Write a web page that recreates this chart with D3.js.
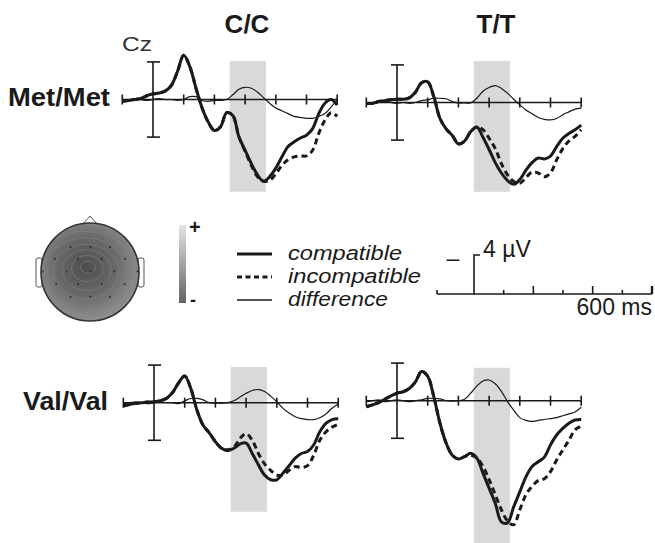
<!DOCTYPE html>
<html lang="en">
  <head>
    <meta charset="UTF-8" />
    <title>ERP at Cz by genotype</title>
    <script src="https://cdn.jsdelivr.net/npm/d3@7"></script>
    <style>
      body {
        margin: 0;
        background: #fff;
        font-family: "Liberation Sans", Arial, sans-serif;
      }
    </style>
  </head>
  <body>
    <div id="chart"></div>
    <script>
      // time grid (ms) shared by every waveform
      const times = [-100, -80, -60, -40, -20, 0, 20, 40, 60, 80, 100, 120, 140, 160, 180, 200, 220, 240,
        260, 280, 300, 320, 340, 360, 380, 400, 420, 440, 460, 480, 500, 520, 540, 560, 580, 600]

      // amplitudes in µV (negative up)
      const metCCcompatible = [0.2, 0.1, 0, -0.1, -0.4, -0.6, -0.7, -0.9, -1.5, -3.0, -4.7, -3.5, -1.2, 0.9, 2.4, 3.3, 2.9, 1.4,
        1.7, 4.0, 5.4, 6.8, 8.0, 8.7, 8.2, 7.3, 6.1, 5.0, 4.5, 4.1, 3.8, 3.1, 1.5, 0.4, 0, 0.6]
      const metCCincompatible = [0.2, 0.1, 0, -0.1, -0.4, -0.6, -0.7, -0.9, -1.5, -3.0, -4.7, -3.5, -1.2, 0.9, 2.4, 3.3, 2.9, 1.4,
        1.7, 4.0, 5.5, 7.0, 8.2, 8.7, 8.6, 7.9, 7.0, 6.4, 6.1, 6.0, 6.0, 5.4, 3.6, 2.2, 1.4, 1.8]
      const metCCdifference = [0, 0.1, -0.1, 0, 0.1, 0, -0.1, 0, 0, 0.1, 0, -0.3, -0.3, 0.1, 0.2, 0.1, 0.1, 0,
        -0.5, -1.1, -1.3, -1.2, -0.8, -0.2, 0.4, 0.9, 1.2, 1.5, 1.8, 1.9, 2.0, 2.0, 1.8, 1.5, 0.8, 0]

      const metTTcompatible = [0.1, 0.1, -0.1, -0.2, -0.3, -0.35, -0.35, -0.5, -1.1, -2.1, -2.2, -0.6, 1.7, 2.8, 3.5, 4.4, 4.1, 3.1,
        2.6, 3.7, 5.0, 6.4, 7.5, 8.3, 8.7, 8.2, 7.2, 6.4, 5.9, 6.0, 5.7, 4.7, 3.8, 3.3, 2.9, 2.4]
      const metTTincompatible = [0.1, 0.1, -0.1, -0.2, -0.3, -0.35, -0.35, -0.5, -1.1, -2.1, -2.2, -0.6, 1.7, 2.8, 3.5, 4.4, 4.1, 3.1,
        2.6, 2.9, 3.8, 4.9, 6.5, 7.7, 8.4, 8.6, 8.0, 7.4, 7.5, 7.9, 7.5, 6.1, 4.9, 4.1, 3.6, 2.9]
      const metTTdifference = [0, 0.1, 0, -0.1, 0, 0.1, 0, 0.1, 0, -0.2, -0.3, -0.45, -0.45, -0.4, -0.1, 0.05, 0.05, 0.05,
        -0.45, -1.2, -1.6, -1.8, -1.5, -1.0, -0.35, 0.25, 0.8, 1.2, 1.6, 1.8, 1.85, 1.7, 1.3, 1.0, 0.7, 0.6]

      const valCCcompatible = [0.35, 0.2, 0.07, 0, -0.07, -0.1, -0.2, -0.45, -1.05, -2.1, -2.85, -1.5, 0.8, 2.4, 3.2, 4.15, 4.85, 5.1,
        4.85, 4.4, 4.3, 5.4, 6.6, 7.7, 8.2, 8.2, 7.5, 6.7, 5.9, 5.4, 5.2, 4.5, 3.1, 2.2, 1.8, 1.7]
      const valCCincompatible = [0.35, 0.2, 0.07, 0, -0.07, -0.1, -0.2, -0.45, -1.05, -2.1, -2.85, -1.5, 0.8, 2.4, 3.2, 4.15, 4.85, 5.0,
        4.75, 3.8, 3.3, 4.0, 5.4, 6.5, 7.2, 7.7, 7.7, 7.2, 6.8, 6.9, 6.7, 5.6, 4.0, 3.1, 2.6, 2.3]
      const valCCdifference = [0.1, 0, -0.1, 0, 0.1, 0, -0.1, 0, 0, 0.1, -0.2, -0.45, -0.45, -0.3, 0, 0.05, 0.05, 0,
        -0.2, -0.6, -1.0, -1.3, -1.4, -1.2, -0.7, -0.1, 0.6, 1.1, 1.5, 1.7, 1.8, 1.8, 1.6, 1.2, 0.6, 0.15]

      const valTTcompatible = [0.65, 0.45, 0.2, -0.15, -0.5, -0.8, -0.95, -1.3, -2.0, -3.1, -2.6, -0.4, 2.4, 4.5, 5.8, 6.2, 5.95, 5.6,
        6.1, 7.7, 9.3, 10.9, 12.9, 13.0, 11.3, 9.7, 8.1, 7.0, 6.5, 6.0, 4.7, 3.65, 2.95, 2.4, 2.05, 2.0]
      const valTTincompatible = [0.65, 0.45, 0.2, -0.15, -0.5, -0.8, -0.95, -1.3, -2.0, -3.1, -2.6, -0.4, 2.4, 4.5, 5.8, 6.2, 5.95, 5.8,
        6.1, 7.0, 8.4, 10.0, 11.6, 12.8, 13.2, 11.6, 10.0, 9.1, 8.5, 8.3, 7.55, 6.3, 5.25, 4.2, 3.1, 2.7]
      const valTTdifference = [0.1, 0, -0.1, 0.1, 0, -0.1, 0, 0.1, 0, -0.1, -0.25, -0.25, -0.2, 0, 0.05, 0, -0.15, -0.8,
        -1.55, -2.1, -2.2, -1.8, -1.0, 0.1, 1.0, 1.8, 2.1, 2.2, 2.1, 2.0, 1.9, 1.8, 1.6, 1.4, 1.2, 0.7]

      const tickTimes = [-100, 100, 200, 300, 400, 500, 600]
      const windowMs = [250, 368]
      const columnLabels = ["C/C", "T/T"]
      const rowLabels = ["Met/Met", "Val/Val"]
      const legendLabels = ["compatible", "incompatible", "difference"]

      // electrode positions, unit head radius
      const electrodeX = [-0.41, 0.01, 0.42, -0.74, -0.25, 0.25, 0.74, -1.0, -0.49, 0.01, 0.51, 1.0,
        -0.71, -0.25, 0.25, 0.73, -0.41, 0.01, 0.42]
      const electrodeY = [-0.51, -0.51, -0.51, -0.27, -0.27, -0.27, -0.27, -0.01, -0.01, -0.01, -0.01, -0.01,
        0.25, 0.25, 0.25, 0.25, 0.51, 0.51, 0.51]
      const contourLevels = [0.14, 0.3, 0.46, 0.62, 0.8, 0.98, 1.16]

      const W = 655, H = 543
      const pxPerMs = 0.307
      const pxPerUv = 9.4

      const panels = [
        { x0: 153, y0: 99.5, shade: [-4.1, 9.8], comp: metCCcompatible, incomp: metCCincompatible, diff: metCCdifference },
        { x0: 397, y0: 102.5, shade: [-4.4, 9.5], comp: metTTcompatible, incomp: metTTincompatible, diff: metTTdifference },
        { x0: 154, y0: 402.7, shade: [-3.8, 11.6], comp: valCCcompatible, incomp: valCCincompatible, diff: valCCdifference },
        { x0: 397, y0: 400.7, shade: [-3.5, 15.2], comp: valTTcompatible, incomp: valTTincompatible, diff: valTTdifference }
      ]

      const svg = d3.select("#chart").append("svg").attr("width", W).attr("height", H)
      const ink = "#1a1a1a"

      panels.forEach(p => {
        const x = d3.scaleLinear().domain([0, 100]).range([p.x0, p.x0 + 100 * pxPerMs])
        const y = d3.scaleLinear().domain([0, 1]).range([p.y0, p.y0 + pxPerUv])
        const g = svg.append("g")

        g.append("rect")
          .attr("x", x(windowMs[0]))
          .attr("width", x(windowMs[1]) - x(windowMs[0]))
          .attr("y", y(p.shade[0]))
          .attr("height", y(p.shade[1]) - y(p.shade[0]))
          .attr("fill", "#d9d9d9")

        // time axis
        g.append("line")
          .attr("x1", x(-100)).attr("x2", x(600))
          .attr("y1", y(0)).attr("y2", y(0))
          .attr("stroke", ink).attr("stroke-width", 1.6)
        g.selectAll(".tick")
          .data(tickTimes)
          .join("line")
          .attr("x1", d => x(d)).attr("x2", d => x(d))
          .attr("y1", y(0) - 5).attr("y2", y(0) + 5)
          .attr("stroke", ink).attr("stroke-width", 1.6)

        // amplitude bar at t = 0
        g.append("line")
          .attr("x1", x(0)).attr("x2", x(0))
          .attr("y1", y(-4)).attr("y2", y(4))
          .attr("stroke", ink).attr("stroke-width", 1.6)
        ;[-4, 4].forEach(v => {
          g.append("line")
            .attr("x1", x(0) - 6).attr("x2", x(0) + 7)
            .attr("y1", y(v)).attr("y2", y(v))
            .attr("stroke", ink).attr("stroke-width", 1.6)
        })

        const line = d3.line()
          .x((d, i) => x(times[i]))
          .y(d => y(d))
          .curve(d3.curveCatmullRom.alpha(0.5))

        g.append("path").attr("d", line(p.diff))
          .attr("fill", "none").attr("stroke", ink).attr("stroke-width", 1.2)
        g.append("path").attr("d", line(p.incomp))
          .attr("fill", "none").attr("stroke", ink).attr("stroke-width", 3)
          .attr("stroke-dasharray", "6 4")
        g.append("path").attr("d", line(p.comp))
          .attr("fill", "none").attr("stroke", ink).attr("stroke-width", 3)
      })

      // titles
      svg.selectAll(".col-label")
        .data(columnLabels)
        .join("text")
        .attr("x", (d, i) => [247, 496][i])
        .attr("y", 33)
        .attr("text-anchor", "middle")
        .attr("font-size", 26)
        .attr("font-weight", "bold")
        .attr("fill", ink)
        .text(d => d)

      svg.selectAll(".row-label")
        .data(rowLabels)
        .join("text")
        .attr("x", (d, i) => [8, 23][i])
        .attr("y", (d, i) => [106, 410][i])
        .attr("font-size", 26)
        .attr("font-weight", "bold")
        .attr("textLength", (d, i) => [102, 85][i])
        .attr("lengthAdjust", "spacingAndGlyphs")
        .attr("fill", ink)
        .text(d => d)

      svg.append("text")
        .attr("x", 122).attr("y", 51)
        .attr("font-size", 20)
        .attr("textLength", 30)
        .attr("lengthAdjust", "spacingAndGlyphs")
        .attr("fill", "#333")
        .text("Cz")

      // scalp map
      const head = { cx: 90, cy: 272, r: 49 }
      const defs = svg.append("defs")
      const rg = defs.append("radialGradient").attr("id", "scalp")
        .attr("cx", "0.46").attr("cy", "0.44").attr("r", "0.62")
      rg.append("stop").attr("offset", "0%").attr("stop-color", "#4c4c4c")
      rg.append("stop").attr("offset", "50%").attr("stop-color", "#6a6a6a")
      rg.append("stop").attr("offset", "100%").attr("stop-color", "#999")
      defs.append("clipPath").attr("id", "headclip")
        .append("circle").attr("cx", head.cx).attr("cy", head.cy).attr("r", head.r)

      const lg = defs.append("linearGradient").attr("id", "cbar")
        .attr("x1", 0).attr("x2", 0).attr("y1", 0).attr("y2", 1)
      lg.append("stop").attr("offset", "0%").attr("stop-color", "#e4e4e4")
      lg.append("stop").attr("offset", "100%").attr("stop-color", "#636363")

      const hx = d3.scaleLinear().domain([-1, 1]).range([head.cx - head.r, head.cx + head.r])
      const hy = d3.scaleLinear().domain([-1, 1]).range([head.cy - head.r, head.cy + head.r])

      ;[-1, 1].forEach(s => {
        svg.append("rect")
          .attr("x", s < 0 ? head.cx - head.r - 5 : head.cx + head.r - 1)
          .attr("y", head.cy - 14).attr("width", 6).attr("height", 29).attr("rx", 2)
          .attr("fill", "#fff").attr("stroke", "#555").attr("stroke-width", 1)
      })
      svg.append("path")
        .attr("d", `M${head.cx - 8},${head.cy - head.r + 2} L${head.cx},${head.cy - head.r - 7} L${head.cx + 8},${head.cy - head.r + 2}`)
        .attr("fill", "#fff").attr("stroke", "#555").attr("stroke-width", 1)
      svg.append("circle")
        .attr("cx", head.cx).attr("cy", head.cy).attr("r", head.r)
        .attr("fill", "url(#scalp)")
      const cg = svg.append("g").attr("clip-path", "url(#headclip)")
      cg.selectAll("ellipse")
        .data(contourLevels)
        .join("ellipse")
        .attr("cx", (d, i) => hx(-0.04 - i * 0.015)).attr("cy", (d, i) => hy(-0.1 + i * 0.03))
        .attr("rx", d => d * head.r * 1.08).attr("ry", d => d * head.r * 0.9)
        .attr("fill", "none").attr("stroke", "#858585").attr("stroke-width", 0.6)
      svg.selectAll(".elec")
        .data(electrodeX)
        .join("circle")
        .attr("cx", d => hx(d * 0.97))
        .attr("cy", (d, i) => hy(electrodeY[i]))
        .attr("r", 1)
        .attr("fill", "#2a2a2a")
      svg.append("circle")
        .attr("cx", head.cx).attr("cy", head.cy).attr("r", head.r)
        .attr("fill", "none").attr("stroke", "#333").attr("stroke-width", 1.6)

      // colour bar
      svg.append("rect").attr("x", 179).attr("y", 225).attr("width", 7).attr("height", 78)
        .attr("fill", "url(#cbar)")
      svg.append("text").attr("x", 189).attr("y", 234).attr("font-size", 20).attr("font-weight", "bold")
        .attr("fill", ink).text("+")
      svg.append("text").attr("x", 190).attr("y", 306).attr("font-size", 18).attr("font-weight", "bold")
        .attr("fill", ink).text("-")

      // line legend
      const legendY = [254, 277, 300]
      const legendWidths = [114, 133, 100]
      legendLabels.forEach((lab, i) => {
        svg.append("line")
          .attr("x1", 237).attr("x2", 272)
          .attr("y1", legendY[i]).attr("y2", legendY[i])
          .attr("stroke", ink)
          .attr("stroke-width", i === 2 ? 1.3 : 3)
          .attr("stroke-dasharray", i === 1 ? "5 3.5" : null)
        svg.append("text")
          .attr("x", 288).attr("y", legendY[i] + 6)
          .attr("font-size", 20.5).attr("font-style", "italic")
          .attr("textLength", legendWidths[i])
          .attr("lengthAdjust", "spacingAndGlyphs")
          .attr("fill", ink)
          .text(lab)
      })

      // calibration bar
      const sx = d3.scaleLinear().domain([0, 600]).range([474, 652])
      svg.append("line").attr("x1", 437).attr("x2", sx(600)).attr("y1", 294).attr("y2", 294)
        .attr("stroke", ink).attr("stroke-width", 1.6)
      svg.append("line").attr("x1", 437).attr("x2", 437).attr("y1", 290).attr("y2", 294)
        .attr("stroke", ink).attr("stroke-width", 1.6)
      svg.append("path").attr("d", `M${sx(0)},294 V255 H${sx(0) + 6}`)
        .attr("fill", "none").attr("stroke", ink).attr("stroke-width", 1.6)
      svg.selectAll(".cal-tick")
        .data([100, 200, 300, 400, 500, 600])
        .join("line")
        .attr("x1", d => sx(d)).attr("x2", d => sx(d))
        .attr("y1", (d, i) => (i % 2 ? 286 : 290)).attr("y2", 294)
        .attr("stroke", ink).attr("stroke-width", (d, i) => (i === 5 ? 2.4 : 1.6))
      svg.append("text").attr("x", 453).attr("y", 266).attr("text-anchor", "middle")
        .attr("font-size", 23).attr("fill", ink).text("–")
      svg.append("text").attr("x", 483).attr("y", 257)
        .attr("font-size", 23).attr("fill", ink).text("4 µV")
      svg.append("text").attr("x", 652).attr("y", 315).attr("text-anchor", "end")
        .attr("font-size", 23).attr("fill", ink).text("600 ms")
    </script>
  </body>
</html>
